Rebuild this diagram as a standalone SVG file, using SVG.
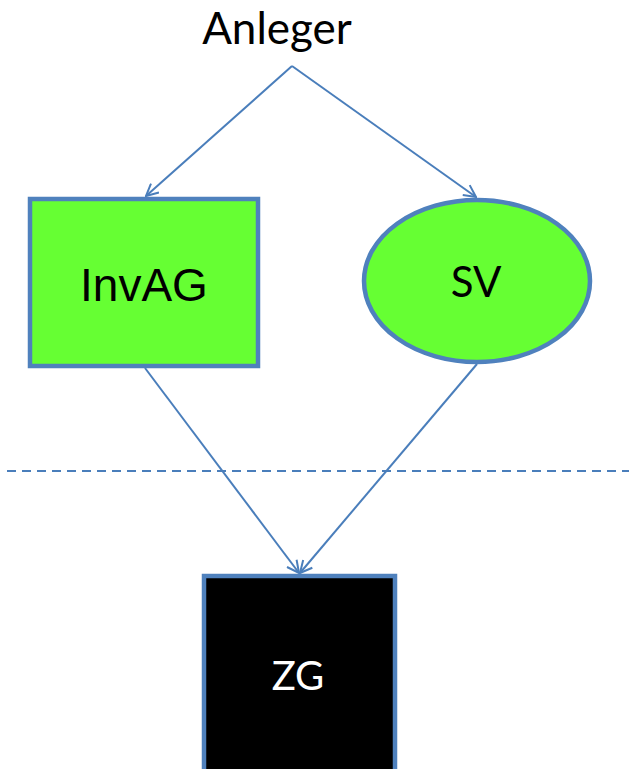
<svg xmlns="http://www.w3.org/2000/svg" width="629" height="769" viewBox="0 0 629 769">
<style>
.edge{fill:none;stroke:#4a7ebb;stroke-width:2}
.node{stroke:#4f81bd;stroke-width:4.5}
.lbl{font-family:Lato,"Open Sans","Liberation Sans",sans-serif;text-anchor:middle}
.arial{font-family:"Liberation Sans",Arial,sans-serif;text-anchor:middle}
</style>
<defs>
<marker id="arr" viewBox="0 0 14 14" refX="13" refY="7" markerWidth="14" markerHeight="14" markerUnits="userSpaceOnUse" orient="auto">
<path d="M1,1 L13,7 L1,13" fill="none" stroke="#4a7ebb" stroke-width="2"/>
</marker>
</defs>
<rect width="629" height="769" fill="#fff"/>
<g id="connectors">
<line class="edge" x1="292" y1="66" x2="146" y2="196" marker-end="url(#arr)"/>
<line class="edge" x1="292" y1="66" x2="476" y2="197" marker-end="url(#arr)"/>
<line class="edge" x1="145" y1="368" x2="299" y2="573" marker-end="url(#arr)"/>
<line class="edge" x1="477" y1="364" x2="300" y2="573" marker-end="url(#arr)"/>
<line class="edge" x1="7" y1="471" x2="629" y2="471" stroke-dasharray="9 6"/>
</g>
<g id="anleger">
<text class="lbl" x="277" y="44" font-size="44">Anleger</text>
</g>
<g id="invag">
<rect class="node" x="30" y="199" width="228" height="167" fill="#66ff33"/>
<text class="arial" x="144" y="301" font-size="46">InvAG</text>
</g>
<g id="sv">
<ellipse class="node" cx="477" cy="281" rx="113" ry="81" fill="#66ff33"/>
<text class="lbl" x="476" y="297" font-size="42">SV</text>
</g>
<g id="zg">
<rect class="node" x="204" y="576" width="191" height="200" fill="#000"/>
<text class="lbl" x="298" y="690" font-size="40" fill="#fff">ZG</text>
</g>
</svg>
